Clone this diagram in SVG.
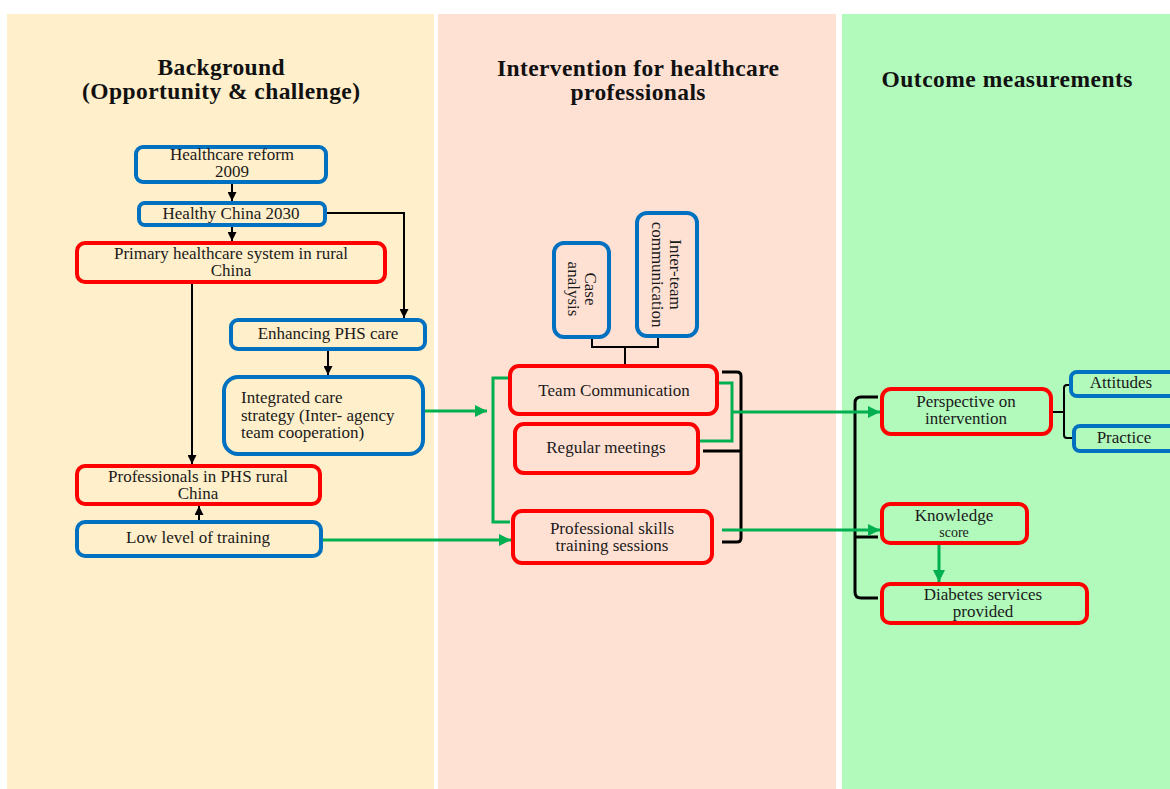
<svg xmlns="http://www.w3.org/2000/svg" width="1170" height="789" viewBox="0 0 1170 789">
<defs>
<style>
.bg{stroke:none}
.box{fill:none;stroke-width:4}
.blue{stroke:#0070C0}
.red{stroke:#FF0000}
.t{font-family:"Liberation Serif","Times New Roman",serif;font-size:17px;fill:#1a1a1a;text-anchor:middle}
.tl{text-anchor:start}
.h{font-family:"Liberation Serif","Times New Roman",serif;font-size:23.5px;font-weight:bold;fill:#111;text-anchor:middle}
.k{fill:none;stroke:#000;stroke-width:2}
.kb{fill:none;stroke:#000;stroke-width:3;stroke-linejoin:round}
.g{fill:none;stroke:#00B050;stroke-width:3}
</style>
<marker id="ak" viewBox="0 0 10 10" refX="10" refY="5" markerWidth="9" markerHeight="9" markerUnits="userSpaceOnUse" orient="auto">
<path d="M0,0 L10,5 L0,10 z" fill="#000"/>
</marker>
<marker id="ag" viewBox="0 0 10 10" refX="10" refY="5" markerWidth="13" markerHeight="12" markerUnits="userSpaceOnUse" orient="auto">
<path d="M0,0 L10,5 L0,10 z" fill="#00B050"/>
</marker>
</defs>
<rect width="1170" height="789" fill="#ffffff"/>
<g id="panels">
<rect class="bg" x="7" y="14" width="427" height="775" fill="#FFEFCA"/>
<rect class="bg" x="438" y="14" width="398" height="775" fill="#FFE1D4"/>
<rect class="bg" x="842" y="14" width="328" height="775" fill="#B2F9BC"/>
</g>
<g id="headings">
<text class="h" x="221" y="75" textLength="127">Background</text>
<text class="h" x="221" y="99" textLength="278">(Opportunity &amp; challenge)</text>
<text class="h" x="638" y="76" textLength="282">Intervention for healthcare</text>
<text class="h" x="638" y="100" textLength="135">professionals</text>
<text class="h" x="1007" y="87" textLength="251">Outcome measurements</text>
</g>
<g id="connectors">
<path class="k" d="M232,182 V201" marker-end="url(#ak)"/>
<path class="k" d="M232,225 V241" marker-end="url(#ak)"/>
<path class="k" d="M325,213 H404 V318" marker-end="url(#ak)"/>
<path class="k" d="M328,349 V375" marker-end="url(#ak)"/>
<path class="k" d="M192,282 V464" marker-end="url(#ak)"/>
<path class="k" d="M199,522 V506" marker-end="url(#ak)"/>
<path class="k" d="M592,337 V347 H658 V336 M625,347 V366"/>
<path class="kb" d="M722,372 H737 Q741,372 741,376 V538 Q741,542 737,542 H722 M703,451 H741"/>
<path class="kb" d="M878,397 H861 Q855,397 855,403 V592 Q855,598 861,598 H878 M855,537 H878"/>
<path class="k" d="M1051,412 H1064 M1071,385 H1067 Q1064,385 1064,388 V435 Q1064,438 1067,438 H1074"/>
<path class="g" d="M423,411 H487" marker-end="url(#ag)"/>
<path class="g" d="M510,378 H493 V522 H510"/>
<path class="g" d="M321,540 H511" marker-end="url(#ag)"/>
<path class="g" d="M719,383 H732 V441 H699"/>
<path class="g" d="M732,412 H880" marker-end="url(#ag)"/>
<path class="g" d="M722,530 H880" marker-end="url(#ag)"/>
<path class="g" d="M939,543 V582" marker-end="url(#ag)"/>
</g>
<g id="n-reform">
<rect class="box blue" x="136" y="147" width="190" height="35" rx="7"/>
<text class="t" x="232" y="160">Healthcare reform</text>
<text class="t" x="232" y="177">2009</text>
</g>
<g id="n-healthy">
<rect class="box blue" x="139" y="203" width="186" height="22" rx="6"/>
<text class="t" x="231" y="219">Healthy China 2030</text>
</g>
<g id="n-primary">
<rect class="box red" x="77" y="243" width="308" height="39" rx="8"/>
<text class="t" x="231" y="259">Primary healthcare system in rural</text>
<text class="t" x="231" y="276">China</text>
</g>
<g id="n-enhancing">
<rect class="box blue" x="231" y="320" width="194" height="29" rx="7"/>
<text class="t" x="328" y="339">Enhancing PHS care</text>
</g>
<g id="n-integrated">
<rect class="box blue" x="224" y="377" width="199" height="77" rx="14"/>
<text class="t tl" x="241" y="403">Integrated care</text>
<text class="t tl" x="241" y="421">strategy (Inter- agency</text>
<text class="t tl" x="241" y="438">team cooperation)</text>
</g>
<g id="n-professionals">
<rect class="box red" x="77" y="466" width="243" height="38" rx="8"/>
<text class="t" x="198" y="482">Professionals in PHS rural</text>
<text class="t" x="198" y="499">China</text>
</g>
<g id="n-lowlevel">
<rect class="box blue" x="77" y="522" width="244" height="34" rx="8"/>
<text class="t" x="198" y="543">Low level of training</text>
</g>
<g id="n-case">
<rect class="box blue" x="554" y="243" width="55" height="94" rx="10"/>
<g transform="translate(581.5,289) rotate(90)">
<text class="t" x="0" y="-3.5">Case</text>
<text class="t" x="0" y="13.5">analysis</text>
</g>
</g>
<g id="n-interteam">
<rect class="box blue" x="637" y="213" width="60" height="123" rx="10"/>
<g transform="translate(667,274.5) rotate(90)">
<text class="t" x="0" y="-3">Inter-team</text>
<text class="t" x="0" y="15">communication</text>
</g>
</g>
<g id="n-teamcomm">
<rect class="box red" x="510" y="366" width="207" height="48" rx="9"/>
<text class="t" x="614" y="396">Team Communication</text>
</g>
<g id="n-meetings">
<rect class="box red" x="515" y="424" width="183" height="49" rx="9"/>
<text class="t" x="606" y="453">Regular meetings</text>
</g>
<g id="n-skills">
<rect class="box red" x="513" y="511" width="199" height="52" rx="9"/>
<text class="t" x="612" y="534">Professional skills</text>
<text class="t" x="612" y="551">training sessions</text>
</g>
<g id="n-perspective">
<rect class="box red" x="882" y="389" width="169" height="45" rx="9"/>
<text class="t" x="966" y="407">Perspective on</text>
<text class="t" x="966" y="424">intervention</text>
</g>
<g id="n-knowledge">
<rect class="box red" x="882" y="504" width="145" height="39" rx="8"/>
<text class="t" x="954" y="521">Knowledge</text>
<text class="t" x="954" y="537" style="font-size:14px">score</text>
</g>
<g id="n-diabetes">
<rect class="box red" x="882" y="584" width="205" height="39" rx="8"/>
<text class="t" x="983" y="600">Diabetes services</text>
<text class="t" x="983" y="617">provided</text>
</g>
<g id="n-attitudes">
<rect class="box blue" x="1071" y="372" width="110" height="24" rx="6"/>
<text class="t" x="1121" y="388">Attitudes</text>
</g>
<g id="n-practice">
<rect class="box blue" x="1074" y="426" width="110" height="25" rx="6"/>
<text class="t" x="1124" y="443">Practice</text>
</g>
</svg>
